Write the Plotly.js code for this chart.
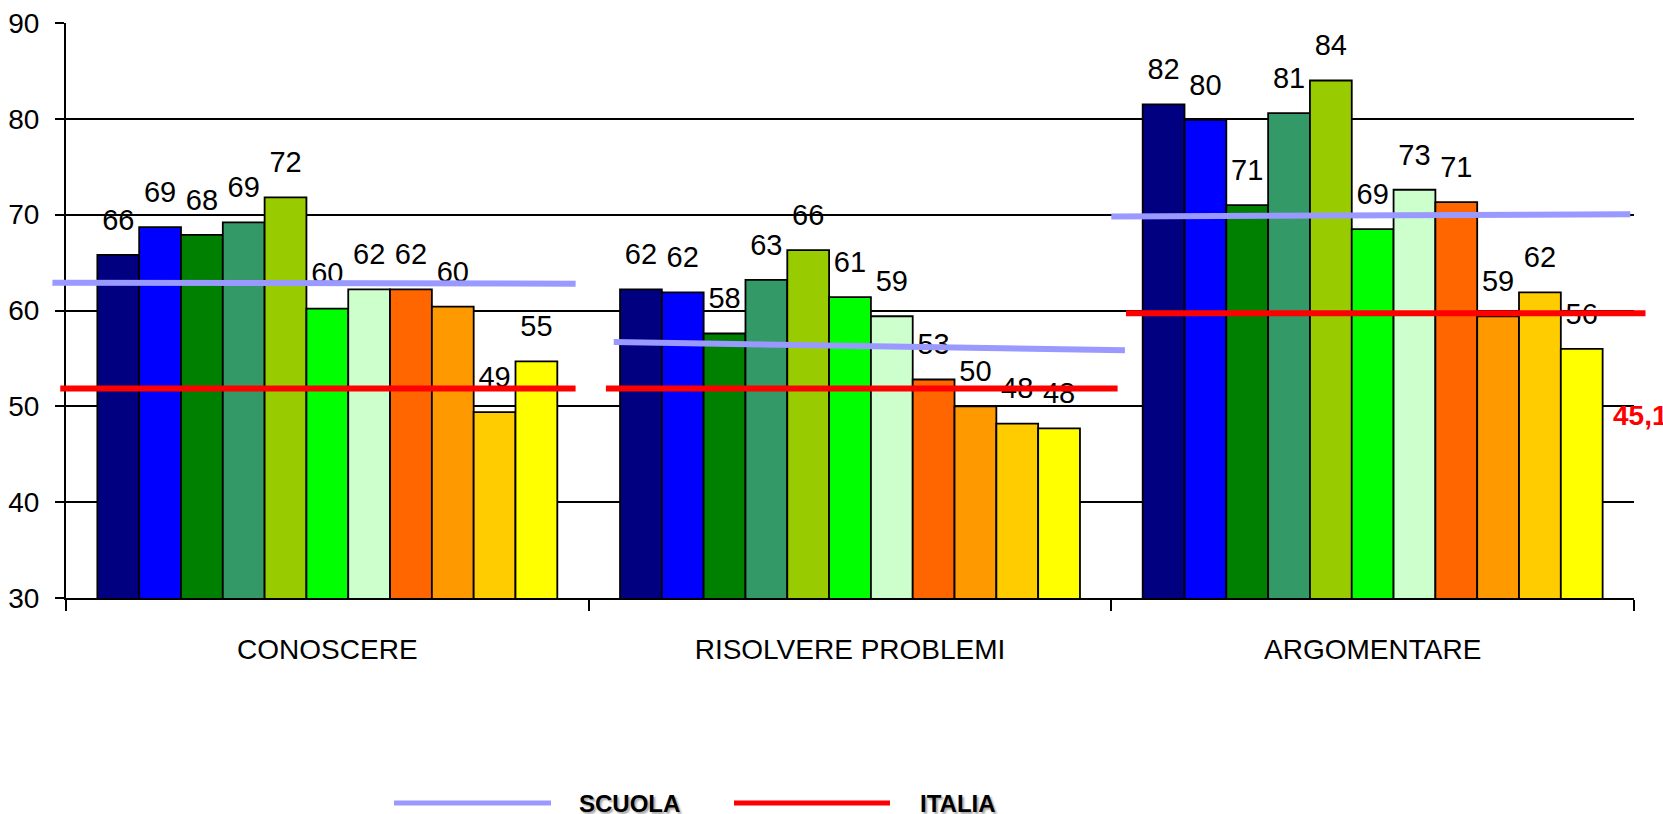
<!DOCTYPE html>
<html>
<head>
<meta charset="utf-8">
<script src="https://cdn.plot.ly/plotly-3.0.1.min.js"></script>
<style>
html, body { margin: 0; padding: 0; background: #ffffff; }
#chart { width: 1663px; height: 814px; }
</style>
</head>
<body>
<div id="chart"></div>
<script>
// ---------------- DATA ----------------
const categories = ['CONOSCERE', 'RISOLVERE PROBLEMI', 'ARGOMENTARE'];
const seriesNames = ['Classe 1', 'Classe 2', 'Classe 3', 'Classe 4', 'Classe 5', 'Classe 6',
                     'Classe 7', 'Classe 8', 'Classe 9', 'Classe 10', 'Classe 11'];

const conoscereValues   = [65.8, 68.7, 67.9, 69.2, 71.8, 60.2, 62.2, 62.2, 60.4, 49.4, 54.7];
const risolvereValues   = [62.2, 61.9, 57.6, 63.2, 66.3, 61.4, 59.4, 52.8, 50.0, 48.2, 47.7];
const argomentareValues = [81.5, 79.9, 71.0, 80.6, 84.0, 68.5, 72.6, 71.3, 59.4, 61.9, 56.0];

const conoscereLabels   = ['66', '69', '68', '69', '72', '60', '62', '62', '60', '49', '55'];
const risolvereLabels   = ['62', '62', '58', '63', '66', '61', '59', '53', '50', '48', '48'];
const argomentareLabels = ['82', '80', '71', '81', '84', '69', '73', '71', '59', '62', '56'];

// reference lines per category (value at left end, value at right end)
const scuolaStart = [62.9, 56.7, 69.8];
const scuolaEnd   = [62.8, 55.85, 70.05];
const italiaStart = [51.85, 51.85, 59.7];
const italiaEnd   = [51.85, 51.85, 59.7];

const legendNames = ['SCUOLA', 'ITALIA'];
const sideNote = '45,1';
const yTickValues = [30, 40, 50, 60, 70, 80, 90];

// ---------------- STYLE ----------------
const barColors = ['#000080', '#0000FF', '#008000', '#339966', '#99CC00', '#00FF00',
                   '#CCFFCC', '#FF6600', '#FF9900', '#FFCC00', '#FFFF00'];
const scuolaColor = '#9999FF';
const italiaColor = '#FF0000';
const FONT = 'Liberation Sans, Arial, sans-serif';

// line segment extents around each category centre (category units)
const scuolaExtent = [[-0.526, 0.475], [-0.452, 0.526], [-0.500, 0.493]];
const italiaExtent = [[-0.511, 0.475], [-0.467, 0.512], [-0.472, 0.522]];

// ---------------- GEOMETRY ----------------
const W = 1663, H = 814;
const M = { l: 40, r: 0, t: 23, b: 216 };
const plotLeftPx = 66, plotRightPx = 1634;
const pw = W - M.l - M.r, ph = H - M.t - M.b;
const xDomain = [(plotLeftPx - M.l) / pw, (plotRightPx - M.l) / pw];
const catPx = (plotRightPx - plotLeftPx) / categories.length;
const x2Range = [-0.5 - (plotLeftPx - M.l) / catPx, -0.5 + (W - M.r - plotLeftPx) / catPx];
const px2x = px => (px - M.l) / pw;
const px2y = py => (H - M.b - py) / ph;

const BARGAP = 0.12;
const nSeries = seriesNames.length;
const barW = (1 - BARGAP) / nSeries;

// ---------------- TRACES ----------------
const perCategoryValues = [conoscereValues, risolvereValues, argomentareValues];
const perCategoryLabels = [conoscereLabels, risolvereLabels, argomentareLabels];

const traces = [];
for (let j = 0; j < nSeries; j++) {
  traces.push({
    type: 'bar',
    name: seriesNames[j],
    x: categories,
    y: perCategoryValues.map(v => v[j]),
    marker: { color: barColors[j], line: { color: '#000000', width: 1.8 } },
    showlegend: false,
    hoverinfo: 'skip',
    xaxis: 'x', yaxis: 'y'
  });
}

// value labels above bars
const lx = [], ly = [], lt = [];
for (let i = 0; i < categories.length; i++) {
  for (let j = 0; j < nSeries; j++) {
    lx.push(i + (j - (nSeries - 1) / 2) * barW);
    ly.push(perCategoryValues[i][j]);
    lt.push(perCategoryLabels[i][j]);
  }
}
traces.push({
  type: 'scatter', mode: 'markers+text',
  x: lx, y: ly, text: lt,
  textposition: 'top center',
  textfont: { family: FONT, size: 29, color: '#000000' },
  marker: { size: 27, opacity: 0 },
  cliponaxis: false, hoverinfo: 'skip', showlegend: false,
  xaxis: 'x2', yaxis: 'y2'
});

function segTrace(startArr, endArr, ext, color, name) {
  const x = [], y = [];
  for (let i = 0; i < categories.length; i++) {
    x.push(i + ext[i][0], i + ext[i][1], null);
    y.push(startArr[i], endArr[i], null);
  }
  return {
    type: 'scatter', mode: 'lines', name: name,
    x: x, y: y, connectgaps: false,
    line: { color: color, width: 6 },
    hoverinfo: 'skip', showlegend: false,
    xaxis: 'x2', yaxis: 'y2'
  };
}
traces.push(segTrace(scuolaStart, scuolaEnd, scuolaExtent, scuolaColor, legendNames[0]));
traces.push(segTrace(italiaStart, italiaEnd, italiaExtent, italiaColor, legendNames[1]));

// ---------------- LAYOUT ----------------
const legendY = px2y(803);
const layout = {
  width: W, height: H,
  margin: M,
  paper_bgcolor: '#ffffff',
  plot_bgcolor: 'rgba(0,0,0,0)',
  barmode: 'group',
  bargap: BARGAP,
  bargroupgap: 0,
  showlegend: false,
  font: { family: FONT, color: '#000000' },
  xaxis: {
    type: 'category', domain: xDomain, range: [-0.5, 2.5],
    showline: true, linecolor: '#000000', linewidth: 2,
    ticks: 'outside', tickson: 'boundaries', ticklen: 11, tickwidth: 2, tickcolor: '#000000',
    tickfont: { family: FONT, size: 28, color: '#000000' },
    ticklabelstandoff: 25,
    showgrid: false, zeroline: false, fixedrange: true
  },
  yaxis: {
    range: [30, 90], tickvals: yTickValues, ticktext: yTickValues.map(String),
    showgrid: true, gridcolor: '#000000', gridwidth: 2,
    showline: true, linecolor: '#000000', linewidth: 2,
    ticks: 'outside', ticklen: 9, tickwidth: 2, tickcolor: '#000000',
    tickfont: { family: FONT, size: 28, color: '#000000' },
    ticklabelstandoff: 10,
    zeroline: false, fixedrange: true
  },
  xaxis2: { domain: [0, 1], range: x2Range, visible: false, anchor: 'y2', fixedrange: true },
  yaxis2: { domain: [0, 1], range: [30, 90], visible: false, anchor: 'x2', showgrid: false, fixedrange: true },
  shapes: [
    { type: 'line', xref: 'paper', yref: 'paper', x0: px2x(394), x1: px2x(551), y0: legendY, y1: legendY,
      line: { color: scuolaColor, width: 5 } },
    { type: 'line', xref: 'paper', yref: 'paper', x0: px2x(734), x1: px2x(890), y0: legendY, y1: legendY,
      line: { color: italiaColor, width: 5 } }
  ],
  annotations: [
    { xref: 'paper', yref: 'paper', x: px2x(577), y: legendY, xanchor: 'left', yanchor: 'middle',
      text: '<b>' + legendNames[0] + '</b>', showarrow: false,
      font: { family: FONT, size: 24, color: '#000000', shadow: '2px 2px 2px rgba(0,0,0,0.35)' } },
    { xref: 'paper', yref: 'paper', x: px2x(918), y: legendY, xanchor: 'left', yanchor: 'middle',
      text: '<b>' + legendNames[1] + '</b>', showarrow: false,
      font: { family: FONT, size: 24, color: '#000000', shadow: '2px 2px 2px rgba(0,0,0,0.35)' } },
    { xref: 'paper', yref: 'paper', x: px2x(1611), y: px2y(415), xanchor: 'left', yanchor: 'middle',
      text: '<b>' + sideNote + '</b>', showarrow: false,
      font: { family: FONT, size: 28, color: '#FF0000' } }
  ]
};

Plotly.newPlot('chart', traces, layout, { displayModeBar: false, staticPlot: true });
</script>
</body>
</html>
